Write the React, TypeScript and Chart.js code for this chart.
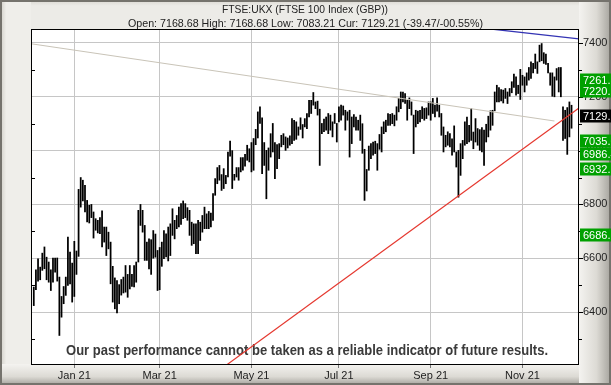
import React, { useEffect, useRef } from "react";
import { Chart, registerables } from "chart.js";

Chart.register(...registerables);

// ---- Data (index 0 = 3 Dec 2020 ... index 252 = 2 Dec 2021, trading days) ----
const barHighs: number[] = [
  6493, 6557, 6598, 6567, 6619, 6642, 6604, 6586, 6557, 6601,
  6601, 6601, 6530, 6458, 6495, 6530, 6679, 6623, 6582, 6663,
  6627, 6856, 6900, 6890, 6871, 6815, 6797, 6800, 6772, 6747,
  6741, 6751, 6776, 6716, 6716, 6697, 6660, 6570, 6527, 6517,
  6502, 6521, 6530, 6573, 6540, 6573, 6540, 6573, 6586, 6778,
  6800, 6778, 6722, 6660, 6672, 6669, 6703, 6690, 6629, 6640,
  6660, 6703, 6691, 6716, 6728, 6784, 6741, 6759, 6790, 6803,
  6813, 6803, 6788, 6778, 6734, 6728, 6728, 6741, 6734, 6759,
  6790, 6765, 6774, 6768, 6840, 6896, 6937, 6945, 6911, 6933,
  6908, 6995, 7035, 7000, 6912, 6937, 6937, 6974, 6974, 6986,
  7020, 7007, 7030, 7045, 7079, 7144, 7163, 7122, 7030, 7001,
  7010, 7063, 7101, 7030, 7022, 7026, 7057, 7063, 7051, 7047,
  7055, 7119, 7113, 7107, 7088, 7122, 7097, 7119, 7138, 7187,
  7187, 7216, 7181, 7184, 7154, 7101, 7117, 7125, 7138, 7132,
  7107, 7138, 7101, 7163, 7169, 7166, 7150, 7144, 7150, 7125,
  7134, 7125, 7113, 7132, 7100, 7005, 6930, 7017, 7026, 7032,
  7035, 7026, 7060, 7088, 7107, 7113, 7138, 7135, 7138, 7132,
  7163, 7194, 7218, 7218, 7212, 7187, 7196, 7181, 7132, 7150,
  7147, 7150, 7163, 7157, 7159, 7181, 7181, 7194, 7169, 7196,
  7169, 7138, 7088, 7057, 7070, 7063, 7044, 7092, 6995, 7001,
  7026, 7038, 7107, 7125, 7094, 7156, 7069, 7119, 7082, 7078,
  7086, 7076, 7098, 7128, 7148, 7150, 7218, 7243, 7234, 7227,
  7225, 7231, 7218, 7231, 7256, 7284, 7274, 7243, 7302, 7280,
  7274, 7289, 7309, 7330, 7324, 7359, 7330, 7392, 7398, 7364,
  7359, 7324, 7289, 7289, 7274, 7305, 7309, 7309, 7163, 7150,
  7160, 7181, 7168.68,
];
const barLows: number[] = [
  6424, 6483, 6515, 6520, 6555, 6561, 6520, 6511, 6480, 6511,
  6548, 6515, 6313, 6381, 6431, 6462, 6499, 6505, 6437, 6458,
  6540, 6607, 6790, 6813, 6772, 6735, 6731, 6751, 6675, 6704,
  6694, 6691, 6642, 6660, 6610, 6635, 6505, 6437, 6412, 6397,
  6431, 6463, 6471, 6474, 6455, 6486, 6495, 6493, 6511, 6586,
  6722, 6697, 6592, 6592, 6560, 6540, 6600, 6604, 6480, 6483,
  6570, 6598, 6605, 6590, 6610, 6685, 6672, 6710, 6716, 6726,
  6747, 6751, 6741, 6685, 6648, 6654, 6617, 6617, 6666, 6697,
  6710, 6710, 6710, 6716, 6741, 6834, 6877, 6890, 6852, 6859,
  6877, 6902, 6979, 6859, 6890, 6902, 6890, 6921, 6927, 6942,
  6964, 6958, 6921, 6927, 7022, 7047, 7101, 6914, 6945, 6821,
  6927, 6976, 6995, 6896, 6933, 6970, 7014, 7022, 7001, 7010,
  7020, 7026, 7038, 7042, 7057, 7079, 7047, 7088, 7082, 7125,
  7138, 7169, 7156, 7132, 6945, 7063, 7070, 7076, 7063, 7076,
  7051, 7101, 7032, 7107, 7113, 7132, 7076, 7113, 6976, 7026,
  7088, 7076, 7076, 7038, 6990, 6815, 6850, 6927, 6970, 6983,
  6989, 6927, 7005, 6995, 7063, 7070, 7094, 7094, 7100, 7092,
  7113, 7144, 7156, 7181, 7175, 7113, 7156, 7132, 6989, 7088,
  7100, 7107, 7119, 7113, 7119, 7132, 7113, 7138, 7125, 7147,
  7125, 7057, 6995, 7014, 7020, 7014, 6983, 6995, 6939, 6827,
  6908, 6970, 7020, 7026, 7032, 7038, 7007, 7032, 7020, 7001,
  6995, 6945, 7032, 7051, 7076, 7094, 7148, 7181, 7181, 7185,
  7177, 7194, 7175, 7202, 7215, 7235, 7206, 7212, 7190, 7243,
  7218, 7243, 7262, 7268, 7289, 7305, 7287, 7330, 7334, 7324,
  7320, 7289, 7243, 7202, 7200, 7262, 7218, 7200, 7038, 7045,
  6986, 7051, 7083.21,
];

const monthTickIndex: number[] = [19, 59, 102, 143, 186, 229];
const monthTickLabels: string[] = ["Jan 21", "Mar 21", "May 21", "Jul 21", "Sep 21", "Nov 21"];

const priceTicks: number[] = [6300, 6400, 6500, 6600, 6700, 6800, 6900, 7000, 7100, 7200, 7300, 7400];
const xMin = -1.3;
const xMax = 255.5;
const yMin = 6207;
const yMax = 7452;

const levelValues: number[] = [7261.3, 7220.5, 7129.21, 7035.0, 6986.4, 6932.7, 6686.2];
const levelLabels: string[] = ["7261.3", "7220.5", "7129.21", "7035.0", "6986.4", "6932.7", "6686.2"];
const levelFills: string[] = ["#00a000", "#00a000", "#000000", "#00a000", "#00a000", "#00a000", "#00a000"];

const grayTrendX: number[] = [-1.3, 244];
const grayTrendY: number[] = [7397, 7110];
const blueTrendX: number[] = [200, 255.5];
const blueTrendY: number[] = [7464.5, 7415];
const redTrendX: number[] = [60, 255.5];
const redTrendY: number[] = [6028, 7158];

const titleText = "FTSE:UKX (FTSE 100 Index (GBP))";
const subtitleText = "Open: 7168.68 High: 7168.68 Low: 7083.21 Cur: 7129.21 (-39.47/-00.55%)";
const disclaimerText = "Our past performance cannot be taken as a reliable indicator of future results.";

const FONT = "'Liberation Sans', Arial, sans-serif";

function fitText(ctx: CanvasRenderingContext2D, text: string, cx: number, cy: number, width: number, font: string, color: string) {
  ctx.save();
  ctx.font = font;
  const w = ctx.measureText(text).width;
  ctx.translate(cx, cy);
  ctx.scale(width / w, 1);
  ctx.textAlign = "center";
  ctx.textBaseline = "middle";
  ctx.fillStyle = color;
  ctx.fillText(text, 0, 0);
  ctx.restore();
}

const framePlugin = {
  id: "frame",
  beforeDraw(chart: any) {
    const ctx: CanvasRenderingContext2D = chart.ctx;
    const W = chart.width, H = chart.height;
    const a = chart.chartArea;
    ctx.save();
    ctx.fillStyle = "#e9e8e3";
    ctx.fillRect(0, 0, W, H);
    let g = ctx.createLinearGradient(0, 0, a.left, 0);
    g.addColorStop(0, "#cfcdc6");
    g.addColorStop(0.2, "#efeeea");
    g.addColorStop(1, "#efeeea");
    ctx.fillStyle = g;
    ctx.fillRect(0, 0, a.left, H);
    g = ctx.createLinearGradient(0, 0, 0, a.top);
    g.addColorStop(0, "#d9d7d1");
    g.addColorStop(0.2, "#ecebe7");
    g.addColorStop(1, "#ecebe7");
    ctx.fillStyle = g;
    ctx.fillRect(a.left, 0, W - a.left, a.top);
    g = ctx.createLinearGradient(a.right, 0, W, 0);
    g.addColorStop(0, "#f4f3f0");
    g.addColorStop(0.55, "#dcdad4");
    g.addColorStop(1, "#a4a29c");
    ctx.fillStyle = g;
    ctx.fillRect(a.right, 0, W - a.right, H);
    g = ctx.createLinearGradient(0, a.bottom, 0, H);
    g.addColorStop(0, "#f4f3f0");
    g.addColorStop(0.6, "#dcdad4");
    g.addColorStop(1, "#a4a29c");
    ctx.fillStyle = g;
    ctx.fillRect(0, a.bottom, a.right, H - a.bottom);
    ctx.fillStyle = "#ffffff";
    ctx.fillRect(a.left, a.top, a.right - a.left, a.bottom - a.top);
    ctx.strokeStyle = "#75736d";
    ctx.lineWidth = 2;
    ctx.strokeRect(1, 1, W - 2, H - 2);
    ctx.restore();
  },
};

const disclaimerPlugin = {
  id: "disclaimer",
  beforeDatasetsDraw(chart: any) {
    const ctx: CanvasRenderingContext2D = chart.ctx;
    fitText(ctx, disclaimerText, 307, 350.5, 482, `bold 15px ${FONT}`, "#3a3a3a");
  },
};

const overlayPlugin = {
  id: "overlay",
  afterDraw(chart: any) {
    const ctx: CanvasRenderingContext2D = chart.ctx;
    const a = chart.chartArea;
    const ys = chart.scales.y;
    ctx.save();
    ctx.strokeStyle = "#000";
    ctx.lineWidth = 1;
    ctx.strokeRect(a.left + 0.5, a.top + 0.5, a.right - a.left - 1, a.bottom - a.top);
    ctx.beginPath();
    for (const v of priceTicks) {
      const y = Math.round(ys.getPixelForValue(v)) + 0.5;
      const major = v % 200 === 0;
      ctx.moveTo(a.right - 1, y);
      ctx.lineTo(a.right + (major ? 4 : 3), y);
      if (!major) {
        ctx.moveTo(a.left, y);
        ctx.lineTo(a.left + 4, y);
      }
    }
    ctx.strokeStyle = "#000";
    ctx.stroke();
    ctx.font = `11px ${FONT}`;
    ctx.textBaseline = "middle";
    ctx.textAlign = "left";
    levelValues.forEach((v, i) => {
      const y = Math.round(ys.getPixelForValue(v));
      ctx.fillStyle = levelFills[i];
      ctx.fillRect(a.right + 1, y - 6.5, 40, 13);
      ctx.fillStyle = "#ffffff";
      ctx.fillText(levelLabels[i], a.right + 4, y + 0.5);
    });
    ctx.restore();
    fitText(ctx, titleText, 305, 9.5, 166, `11px ${FONT}`, "#222");
    fitText(ctx, subtitleText, 305.5, 23.5, 355, `11px ${FONT}`, "#222");
  },
};

export default function App() {
  const ref = useRef<HTMLCanvasElement | null>(null);
  useEffect(() => {
    document.body.style.margin = "0";
    const canvas = ref.current;
    if (!canvas) return;
    const chart = new Chart(canvas, {
      type: "bar",
      data: {
        datasets: [
          {
            type: "line",
            data: grayTrendX.map((x, i) => ({ x, y: grayTrendY[i] })),
            borderColor: "#c9c4b8",
            borderWidth: 1.1,
            pointRadius: 0,
            order: 1,
          },
          {
            type: "line",
            data: blueTrendX.map((x, i) => ({ x, y: blueTrendY[i] })),
            borderColor: "#3434b4",
            borderWidth: 1.3,
            pointRadius: 0,
            order: 1,
          },
          {
            type: "line",
            data: redTrendX.map((x, i) => ({ x, y: redTrendY[i] })),
            borderColor: "#e5382f",
            borderWidth: 1.2,
            pointRadius: 0,
            order: 1,
          },
          {
            type: "bar",
            data: barHighs.map((h, i) => ({ x: i, y: [barLows[i], h] })),
            backgroundColor: "#000000",
            borderWidth: 0,
            barThickness: 1.1,
            order: 5,
          },
        ] as any,
      },
      options: {
        responsive: false,
        animation: false,
        devicePixelRatio: 1,
        layout: { padding: { left: 31, top: 29, right: 0, bottom: 0 } },
        plugins: { legend: { display: false }, tooltip: { enabled: false }, title: { display: false } },
        scales: {
          x: {
            type: "linear",
            min: xMin,
            max: xMax,
            offset: false,
            afterBuildTicks: (s: any) => {
              s.ticks = monthTickIndex.map((v) => ({ value: v }));
            },
            afterFit: (s: any) => {
              s.height = 21;
            },
            ticks: {
              autoSkip: false,
              maxRotation: 0,
              padding: 1,
              color: "#222",
              font: { family: FONT, size: 11 },
              callback: (v: any) => {
                const k = monthTickIndex.indexOf(Number(v));
                return k >= 0 ? monthTickLabels[k] : "";
              },
            },
            grid: { color: "#c6c6c6", lineWidth: 1, drawTicks: true, tickLength: 4, tickColor: "#777", offset: false },
            border: { display: false },
          },
          y: {
            type: "linear",
            position: "right",
            min: yMin,
            max: yMax,
            afterBuildTicks: (s: any) => {
              s.ticks = priceTicks.map((v) => ({ value: v }));
            },
            afterFit: (s: any) => {
              s.width = 32;
            },
            ticks: {
              padding: 4,
              color: "#222",
              font: { family: FONT, size: 11 },
              callback: (v: any) => (Number(v) % 200 === 0 ? String(v) : ""),
            },
            grid: {
              color: (c: any) => (c.tick && c.tick.value % 200 === 0 ? "#c6c6c6" : "rgba(0,0,0,0)"),
              drawTicks: false,
            },
            border: { display: false },
          },
        },
      } as any,
      plugins: [framePlugin, disclaimerPlugin, overlayPlugin],
    });
    return () => chart.destroy();
  }, []);
  return (
    <div style={{ width: 611, height: 385 }}>
      <canvas ref={ref} width={611} height={385} style={{ display: "block" }} />
    </div>
  );
}
